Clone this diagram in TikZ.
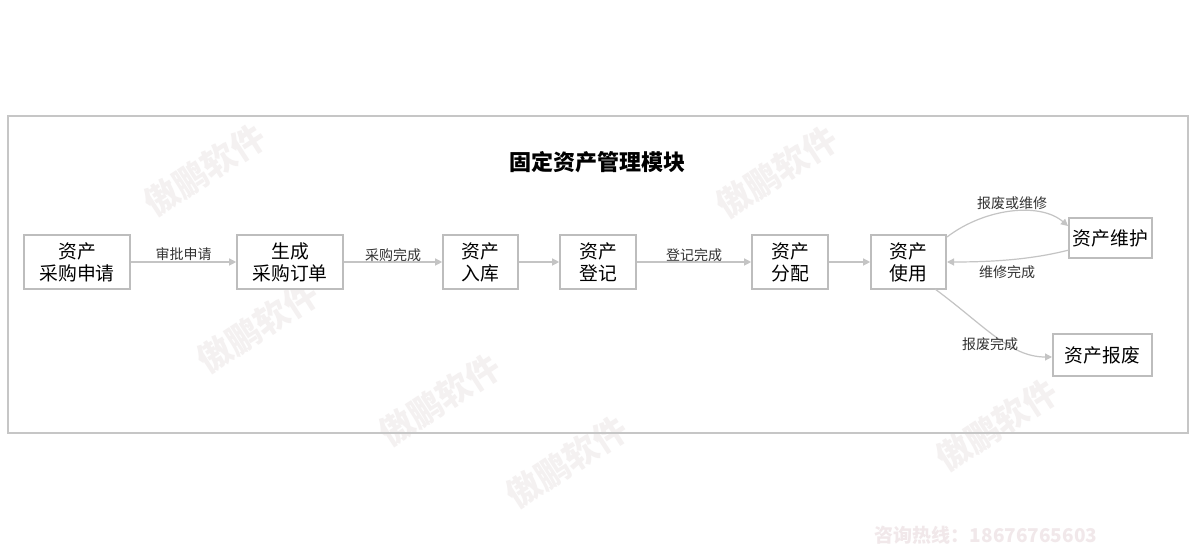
\documentclass[tikz,border=0pt]{standalone}
\usepackage{fontspec}
\setmainfont{Noto Sans CJK SC}
\usetikzlibrary{arrows.meta}
\definecolor{boxgray}{HTML}{BDBDBD}
\definecolor{framegray}{HTML}{C6C6C6}
\definecolor{linegray}{HTML}{C4C4C4}
\definecolor{textgray}{HTML}{333333}
\definecolor{wmcol}{HTML}{F4F1F1}
\definecolor{hotcol}{HTML}{F1E8EA}
\begin{document}
\begin{tikzpicture}[x=0.5pt,y=-0.5pt,
  box/.style={draw=boxgray,line width=0.8pt,fill=white,minimum height=27pt,align=center,
    font=\fontsize{9.4}{11}\selectfont,inner sep=0pt,text=black},
  conn/.style={draw=linegray,line width=0.6pt,-{Triangle[length=3.5pt,width=3.5pt]}},
  lbl/.style={font=\fontsize{7}{8}\selectfont,text=textgray,inner sep=0pt},
  wm/.style={font=\bfseries\fontsize{17}{17}\selectfont,text=wmcol,rotate=33,inner sep=0pt}]
\useasboundingbox (0,0) rectangle (1200,560);
\fill[white] (0,0) rectangle (1200,560);
% watermarks
\node[wm] (w1) at (205,170) {傲鹏软件};
\node[wm] (w2) at (258,327) {傲鹏软件};
\node[wm] (w3) at (440,400) {傲鹏软件};
\node[wm] (w4) at (567,462) {傲鹏软件};
\node[wm] (w5) at (777,172) {傲鹏软件};
\node[wm] (w6) at (997,425) {傲鹏软件};
\node[font=\bfseries\fontsize{9.5}{10}\selectfont,text=hotcol,inner sep=0pt] (hot) at (986,535) {咨询热线：18676765603};
% frame
\draw[framegray,line width=0.8pt] (8,116) rectangle (1188,433);
\node[font=\bfseries\fontsize{11}{12}\selectfont,inner sep=0pt] (title) at (597,162) {固定资产管理模块};
% boxes
\node[box,minimum width=53pt] (a) at (77,262) {资产\\采购申请};
\node[box,minimum width=53pt] (b) at (290,262) {生成\\采购订单};
\node[box,minimum width=37.5pt] (c) at (480.5,262) {资产\\入库};
\node[box,minimum width=38pt] (d) at (598,262) {资产\\登记};
\node[box,minimum width=38pt] (e) at (790,262) {资产\\分配};
\node[box,minimum width=37.5pt] (f) at (908.5,262) {资产\\使用};
\node[box,minimum width=41.5pt,minimum height=20pt] (g) at (1110.5,238) {资产维护};
\node[box,minimum width=49.5pt,minimum height=21pt] (h) at (1102.5,355) {资产报废};
% connectors
\draw[conn] (a) -- (b) node[lbl,midway,yshift=4pt] (l1) {审批申请};
\draw[conn] (b) -- (c) node[lbl,midway,yshift=3.5pt] (l2) {采购完成};
\draw[conn] (c) -- (d);
\draw[conn] (d) -- (e) node[lbl,midway,yshift=3.5pt] (l3) {登记完成};
\draw[conn] (e) -- (f);
\coordinate (fs) at (947,237);
\coordinate (ge) at (1068,226);
\draw[conn] (fs) .. controls (985,208) and (1040,202) .. (ge);
\node[lbl] (l4) at (1012,203) {报废或维修};
\coordinate (gs) at (1069,250);
\coordinate (fe) at (947,262);
\draw[conn] (gs) .. controls (1030,260) and (990,262) .. (fe);
\node[lbl] (l5) at (1007,272) {维修完成};
\coordinate (fb) at (935,289);
\coordinate (he) at (1052,357);
\draw[conn] (fb) .. controls (985,326) and (1010,357) .. (he);
\node[lbl] (l6) at (990,344) {报废完成};
\end{tikzpicture}
\end{document}
